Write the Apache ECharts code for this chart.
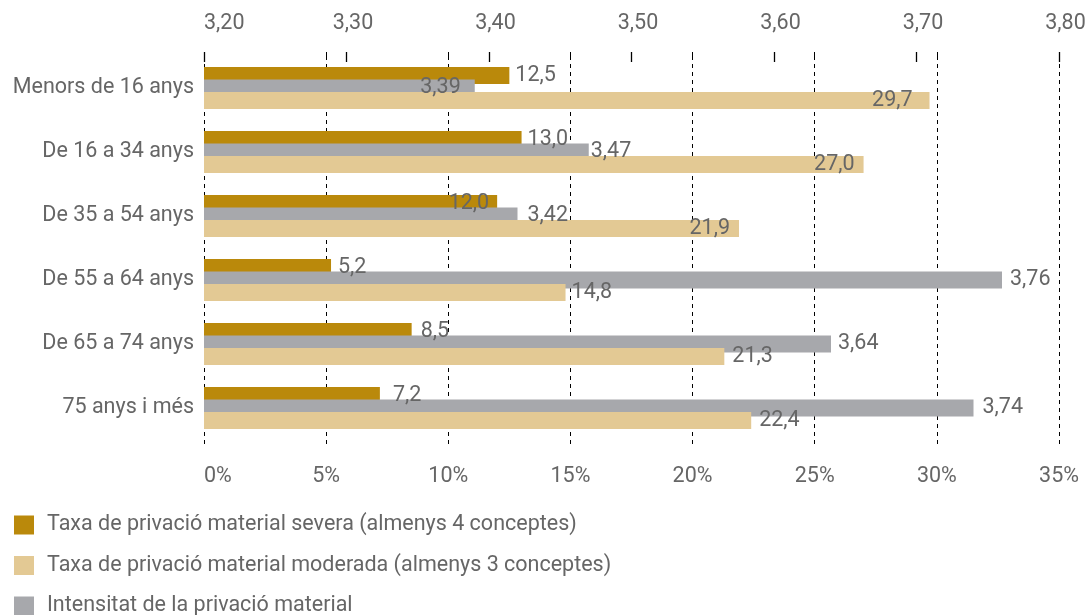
<!DOCTYPE html>
<html>
<head>
<meta charset="utf-8">
<script src="https://cdn.jsdelivr.net/npm/echarts@6/dist/echarts.min.js"></script>
<style>
  html, body { margin: 0; padding: 0; background: #ffffff; }
  #chart { width: 1092px; height: 615px; }
</style>
</head>
<body>
<div id="chart"></div>
<script>
// Age groups (top to bottom)
const categories = ['Menors de 16 anys', 'De 16 a 34 anys', 'De 35 a 54 anys', 'De 55 a 64 anys', 'De 65 a 74 anys', '75 anys i més'];

// Rates (%) and intensity (mean number of items)
const severa = [12.5, 13.0, 12.0, 5.2, 8.5, 7.2];
const moderada = [29.7, 27.0, 21.9, 14.8, 21.3, 22.4];
const intensitat = [3.39, 3.47, 3.42, 3.76, 3.64, 3.74];

const seriesNames = [
  'Taxa de privació material severa (almenys 4 conceptes)',
  'Taxa de privació material moderada (almenys 3 conceptes)',
  'Intensitat de la privació material'
];

// Axis ranges
const pctMin = 0, pctMax = 35, pctStep = 5;
const intMin = 3.2, intMax = 3.8, intStep = 0.1;

// Label placement per bar: [position, distance]
const severaLabelPos = [['right', 6], ['right', 6], ['insideRight', 8], ['right', 7], ['right', 9], ['right', 13]];
const intensitatLabelPos = [['insideRight', 14], ['right', 2], ['right', 10], ['right', 8], ['right', 7], ['right', 9]];
const moderadaLabelPos = [['insideRight', 17], ['insideRight', 9], ['insideRight', 9], ['right', 6], ['right', 8], ['right', 8]];

const GOLD = '#BA890B';
const TAN = '#E3C994';
const GREY = '#A7A8AC';
const TEXT = '#666666';
const FONT = 'Roboto';
const FS = 21.5;

const comma = (v, d) => Number(v).toFixed(d).replace('.', ',');

function withLabels(values, places, decimals) {
  return values.map((v, i) => ({
    value: v,
    label: {
      position: places[i][0],
      distance: places[i][1],
      formatter: () => comma(v, decimals)
    }
  }));
}

const baseLabel = { show: true, color: TEXT, fontSize: FS, fontFamily: FONT };

const chart = echarts.init(document.getElementById('chart'), null, { renderer: 'canvas' });

chart.setOption({
  animation: false,
  backgroundColor: '#ffffff',
  textStyle: { fontFamily: FONT },
  grid: { left: 204, right: 33, top: 56, height: 384, containLabel: false },
  legend: {
    orient: 'vertical',
    left: 14,
    top: 514,
    height: 140,
    padding: 0,
    icon: 'rect',
    itemWidth: 20,
    itemHeight: 19,
    itemGap: 18.5,
    data: seriesNames,
    textStyle: { color: TEXT, fontSize: FS, fontFamily: FONT, lineHeight: 21, padding: [0, 0, 0, 8] }
  },
  xAxis: [
    {
      type: 'value', position: 'bottom', gridIndex: 0,
      min: pctMin, max: pctMax, interval: pctStep,
      axisLine: { show: false },
      axisTick: { show: true, length: 6, lineStyle: { color: '#000', width: 1, type: [4, 4] } },
      splitLine: { show: true, lineStyle: { color: '#000', width: 1, type: [4, 4] } },
      axisLabel: {
        color: TEXT, fontSize: FS, fontFamily: FONT, margin: 26,
        showMinLabel: true, showMaxLabel: true, alignMinLabel: 'left',
        formatter: v => v + '%'
      }
    },
    {
      type: 'value', position: 'top', gridIndex: 0, offset: -6,
      min: intMin, max: intMax, interval: intStep,
      axisLine: { show: false },
      axisTick: { show: true, length: 10, lineStyle: { color: '#000', width: 1.3 } },
      splitLine: { show: false },
      axisLabel: {
        color: TEXT, fontSize: FS, fontFamily: FONT, margin: 27,
        showMinLabel: true, showMaxLabel: true, alignMinLabel: 'left',
        formatter: v => (Math.abs(v - intMin) < 1e-9 ? '{a|' : '{b|') + comma(v, 2) + '}',
        rich: {
          a: { color: TEXT, fontSize: FS, fontFamily: FONT },
          b: { color: TEXT, fontSize: FS, fontFamily: FONT, padding: [0, 0, 0, 13] }
        }
      }
    },
    {
      // short dashed stubs continuing the gridlines above the plot
      type: 'value', position: 'top', gridIndex: 0,
      min: pctMin, max: pctMax, interval: pctStep,
      axisLine: { show: false },
      axisTick: { show: true, length: 4, lineStyle: { color: '#000', width: 1 } },
      splitLine: { show: false },
      axisLabel: { show: false }
    }
  ],
  yAxis: [
    {
      type: 'category', gridIndex: 0, inverse: true, data: categories,
      axisLine: { show: false }, axisTick: { show: false },
      axisLabel: { color: TEXT, fontSize: FS, fontFamily: FONT, margin: 10 }
    },
    {
      type: 'category', gridIndex: 0, inverse: true, data: categories, show: false
    }
  ],
  series: [
    {
      name: seriesNames[0], type: 'bar', xAxisIndex: 0, yAxisIndex: 0,
      barWidth: 17, barGap: '47%',
      itemStyle: { color: GOLD },
      label: baseLabel,
      data: withLabels(severa, severaLabelPos, 1)
    },
    {
      name: seriesNames[2], type: 'bar', xAxisIndex: 1, yAxisIndex: 1,
      barWidth: 17,
      itemStyle: { color: GREY },
      label: baseLabel,
      data: withLabels(intensitat, intensitatLabelPos, 2)
    },
    {
      name: seriesNames[1], type: 'bar', xAxisIndex: 0, yAxisIndex: 0,
      barWidth: 17, barGap: '47%',
      itemStyle: { color: TAN },
      label: baseLabel,
      data: withLabels(moderada, moderadaLabelPos, 1)
    }
  ]
});
</script>
</body>
</html>
